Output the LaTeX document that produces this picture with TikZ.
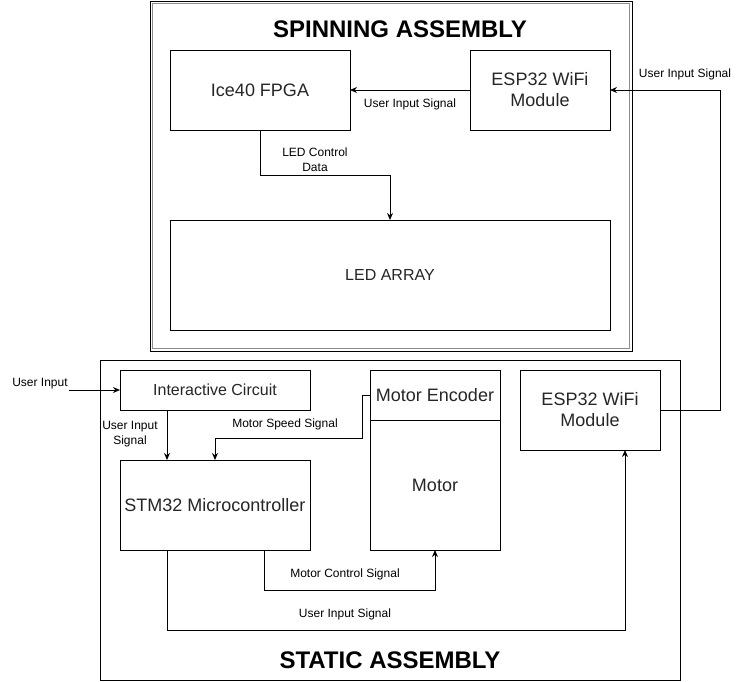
\documentclass[tikz,border=0pt]{standalone}
\usepackage{fontspec}
\setmainfont{Liberation Sans}
\usetikzlibrary{arrows.meta,calc}
\tikzset{
  blk/.style={draw=black, line width=1pt, minimum width=#1, inner sep=0pt, outer sep=0pt, align=center, text=black!85, font=\fontsize{18}{21}\selectfont},
  lbl/.style={inner sep=0pt, align=center, font=\fontsize{12}{15}\selectfont},
  ttl/.style={inner sep=0pt, font=\fontsize{24}{28}\selectfont\bfseries},
  conn/.style={draw=black, line width=1pt, -{Stealth[length=7pt,width=6pt]}},
}
\begin{document}
\begin{tikzpicture}[x=1pt,y=-1pt]
\useasboundingbox (0,0) rectangle (750,681);
\fill[white] (0,0) rectangle (750,681);
% spinning assembly frame (double border)
\draw[black, line width=1pt] (150,1) rectangle (632,351);
\draw[black!45, line width=0.8pt] (152.5,3.5) rectangle (629.5,348.5);
\node[ttl] (spinttl) at (400,29) {SPINNING ASSEMBLY};
% static assembly frame
\draw[black, line width=1pt] (100,360) rectangle (680,680);
\node[ttl] (statttl) at (390,660) {STATIC ASSEMBLY};
% spinning blocks
\node[blk=180pt, minimum height=80pt] (fpga) at (260,90) {Ice40 FPGA};
\node[blk=140pt, minimum height=80pt] (esptop) at (540,90) {ESP32 WiFi\\Module};
\node[blk=440pt, minimum height=110pt, font=\fontsize{16}{19}\selectfont] (led) at (390,275) {LED ARRAY};
% static blocks
\node[blk=190pt, minimum height=40pt, font=\fontsize{16}{19}\selectfont] (ic) at (215,390) {Interactive Circuit};
\node[blk=190pt, minimum height=90pt] (stm) at (215,505) {STM32 Microcontroller};
\node[blk=130pt, minimum height=50pt] (enc) at (435,395) {Motor Encoder};
\node[blk=130pt, minimum height=130pt] (motor) at (435,485) {Motor};
\node[blk=140pt, minimum height=80pt] (espbot) at (590,410) {ESP32 WiFi\\Module};
% connectors
\draw[conn] (esptop.west) -- (fpga.east);
\node[lbl] (l1) at (410,104) {User Input Signal};
\draw[conn] (fpga.south) |- (390,175) -- (led.north);
\node[lbl] (l2) at (315,160) {LED Control\\Data};
\draw[conn] (espbot.east) -- (720,410) |- (esptop.east);
\node[lbl] (l3) at (685,74) {User Input Signal};
\node[lbl] (uin) at (40,384) {User Input};
\coordinate (uinend) at (69,390);
\draw[conn] (uinend) -- (ic.west);
\draw[conn] ($(ic.south west)+(47,0)$) -- ($(stm.north west)+(47,0)$);
\node[lbl] (l4) at (130,434) {User Input\\Signal};
\draw[conn] (enc.west) -- (362,395) -- (362,438) -| (stm.north);
\node[lbl] (l5) at (285,424) {Motor Speed Signal};
\draw[conn] ($(stm.south west)+(144,0)$) |- (435,590) -- (motor.south);
\node[lbl] (l6) at (345,574) {Motor Control Signal};
\draw[conn] ($(stm.south west)+(47,0)$) |- (625,630) -- ($(espbot.south west)+(105,0)$);
\node[lbl] (l7) at (345,614) {User Input Signal};
\end{tikzpicture}
\end{document}
